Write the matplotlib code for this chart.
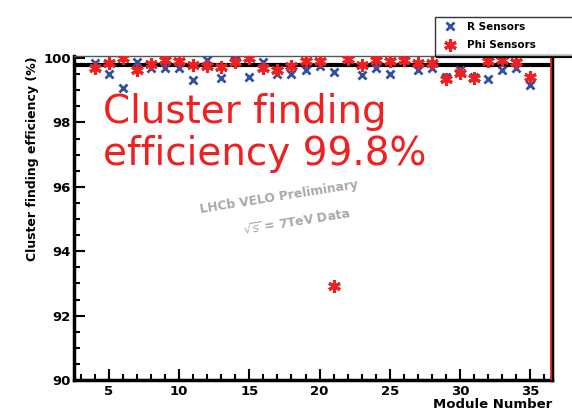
import numpy as np
import matplotlib.pyplot as plt
from matplotlib.ticker import MultipleLocator
from matplotlib.lines import Line2D

# Per-module cluster finding efficiency (%)
modules = list(range(4, 36))
eff_r = [99.84, 99.49, 99.06, 99.87, 99.68, 99.70, 99.70, 99.32,
         99.94, 99.39, 99.94, 99.42, 99.89, 99.52, 99.49, 99.63,
         99.76, 99.58, 99.97, 99.47, 99.68, 99.49, 99.94, 99.63,
         99.68, 99.40, 99.62, 99.41, 99.35, 99.63, 99.68, 99.17]
eff_phi = [99.69, 99.84, 99.99, 99.63, 99.81, 99.95, 99.91, 99.78,
           99.76, 99.73, 99.87, 99.99, 99.70, 99.63, 99.76, 99.91,
           99.91, 92.92, 99.96, 99.80, 99.94, 99.92, 99.94, 99.84,
           99.84, 99.35, 99.55, 99.38, 99.92, 99.94, 99.87, 99.41]
mean_eff = 99.78

blue = '#2f4fa8'
red = '#f02020'
asterisk = (6, 2, 0)

fig = plt.figure(figsize=(5.72, 4.19), dpi=100)
fig.patch.set_facecolor('white')
ax = fig.add_axes([0.129, 0.093, 0.836, 0.773])

ax.plot(modules, eff_r, 'x', color=blue, ms=6, mew=2.0, label='R Sensors', zorder=3)
ax.plot(modules, eff_phi, marker=asterisk, ls='none', color=red, ms=9, mew=2.2,
        label='Phi Sensors', zorder=4)
ax.axhline(mean_eff, color='black', lw=3, zorder=2)
ax.axvline(36.45, color=red, lw=1.2, zorder=5)

ax.set_xlim(2.5, 36.55)
ax.set_ylim(90, 100.06)
ax.xaxis.set_major_locator(MultipleLocator(5))
ax.xaxis.set_minor_locator(MultipleLocator(1))
ax.yaxis.set_major_locator(MultipleLocator(2))
ax.yaxis.set_minor_locator(MultipleLocator(0.5))
ax.tick_params(which='both', direction='in', top=False, right=False, width=1.5)
ax.tick_params(which='major', length=8, labelsize=9.5)
ax.tick_params(axis='y', pad=2)
ax.tick_params(which='minor', length=4)
for lab in ax.get_xticklabels() + ax.get_yticklabels():
    lab.set_fontweight('bold')

for side in ['left', 'bottom', 'right']:
    ax.spines[side].set_linewidth(2.5)
ax.spines['top'].set_linewidth(1.0)
ax.spines['top'].set_color('#555555')

ax.set_ylabel('Cluster finding efficiency (%)', fontsize=9, fontweight='bold', loc='top')
ax.yaxis.set_label_coords(-0.073, 1.0)
ax.set_xlabel('Module Number', fontsize=9.5, fontweight='bold', loc='right')
ax.xaxis.set_label_coords(1.0, -0.055)

# big headline
ax.text(0.061, 0.793, 'Cluster finding', transform=ax.transAxes,
        color=red, fontsize=28, va='baseline', ha='left')
ax.text(0.061, 0.664, 'efficiency 99.8%', transform=ax.transAxes,
        color=red, fontsize=28, va='baseline', ha='left')

ax.text(0.429, 0.565, 'LHCb VELO Preliminary', transform=ax.transAxes, color='#a8a8a8',
        fontsize=8.8, fontweight='bold', rotation=9, ha='center', va='center')
ax.text(0.466, 0.488, r'$\sqrt{s}$ = 7TeV Data', transform=ax.transAxes, color='#a8a8a8',
        fontsize=8.8, fontweight='bold', rotation=9, ha='center', va='center')

leg = fig.legend(loc='upper left', bbox_to_anchor=(0.76, 0.96, 0.3, 0),
                 mode='expand', frameon=True, fancybox=False, shadow=False,
                 prop={'weight': 'bold', 'size': 7.5}, borderpad=0.5,
                 labelspacing=0.8, handletextpad=0.6, borderaxespad=0)
leg.get_frame().set_edgecolor('black')
leg.get_frame().set_linewidth(1.0)
# legend shadow along the bottom edge
fig.add_artist(Line2D([0.765, 1.0], [1 - 56 / 419] * 2, lw=3, color='black'))

fig.savefig('out.png', dpi=100)
